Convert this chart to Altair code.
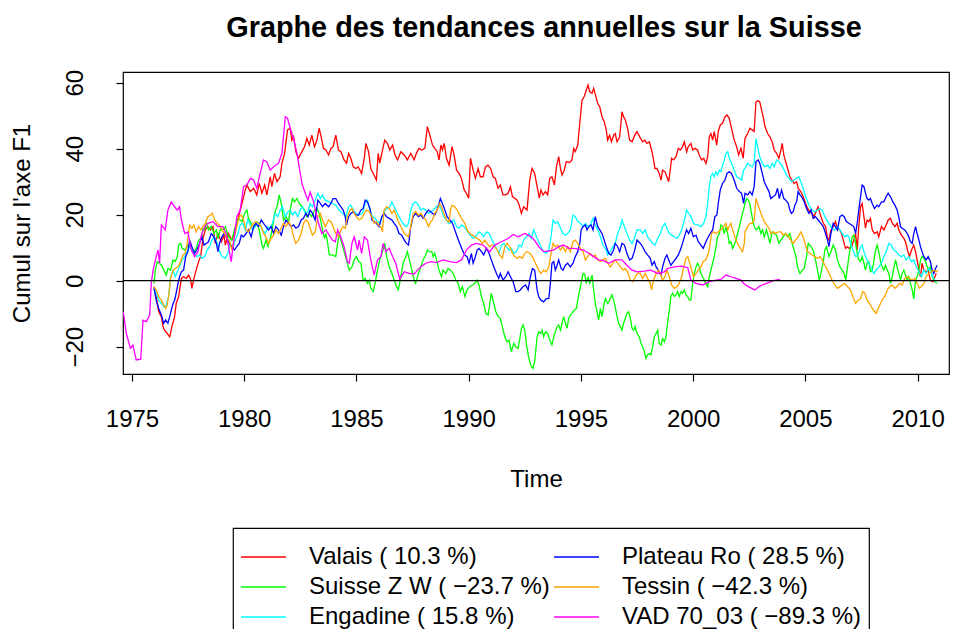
import altair as alt
import pandas as pd

# ---- data (year, cumulative value) ----
valais = [(1975.98,-1.8),(1976.08,-4.8),(1976.19,-9.4),(1976.31,-10.9),(1976.38,-13.9),(1976.45,-15),(1976.57,-16),(1976.68,-17),(1976.78,-13.9),(1976.9,-10.9),(1976.97,-6.9),(1977.08,-4.8),(1977.2,0.7),(1977.3,1.2),(1977.42,0.7),(1977.52,1.7),(1977.6,0.7),(1977.67,-2.3),(1977.76,0.7),(1977.86,3.2),(1977.97,5.8),(1978.06,7.3),(1978.16,12.8),(1978.27,15.4),(1978.38,16.4),(1978.5,15.4),(1978.61,16.4),(1978.71,11.3),(1978.83,14.3),(1978.98,11.8),(1979.1,13.8),(1979.16,10.8),(1979.3,14.3),(1979.45,12.3),(1979.6,15.4),(1979.75,19.4),(1979.9,23.4),(1980.05,27.5),(1980.12,29),(1980.27,27),(1980.42,28),(1980.56,26),(1980.67,29.5),(1980.79,26.5),(1980.91,29),(1981.01,26),(1981.16,31.5),(1981.23,28.5),(1981.35,32.5),(1981.46,30),(1981.6,31.5),(1981.68,35.6),(1981.8,38.6),(1981.93,45.7),(1982.05,46.2),(1982.12,42.6),(1982.2,43.6),(1982.3,39.1),(1982.42,37.1),(1982.57,39.1),(1982.69,40.6),(1982.79,43.1),(1982.9,41.1),(1983.01,44.1),(1983.13,40.6),(1983.24,42.6),(1983.34,46.2),(1983.46,42.6),(1983.53,40.1),(1983.64,39.6),(1983.76,38.1),(1983.86,40.1),(1983.96,40.6),(1984.08,44.1),(1984.2,39.6),(1984.31,39.1),(1984.45,36.6),(1984.56,35.6),(1984.65,38.6),(1984.75,37.1),(1984.86,34.5),(1984.97,34.0),(1985.08,34.5),(1985.23,32.5),(1985.35,37.1),(1985.42,41.6),(1985.54,39.1),(1985.64,34),(1985.75,32.5),(1985.89,30.5),(1985.97,38.6),(1986.04,35.6),(1986.13,38.6),(1986.26,42.6),(1986.38,41.6),(1986.49,39.6),(1986.61,41.1),(1986.72,38.1),(1986.83,36.6),(1986.98,39.1),(1987.13,38.1),(1987.27,36.6),(1987.42,38.6),(1987.57,36.6),(1987.67,38.6),(1987.79,40.1),(1987.91,39.6),(1988.05,40.1),(1988.16,46.7),(1988.27,44.1),(1988.39,41.1),(1988.49,40.1),(1988.6,39.1),(1988.68,36.6),(1988.76,41.1),(1988.83,39.6),(1988.91,41.6),(1989.01,37.1),(1989.13,35),(1989.26,40.6),(1989.35,38.1),(1989.46,33.5),(1989.57,32.5),(1989.68,31),(1989.8,27.5),(1989.9,26.5),(1990.0,25),(1990.08,37.1),(1990.2,33.5),(1990.3,31),(1990.42,34),(1990.52,31.5),(1990.64,31.5),(1990.75,34.5),(1990.86,35),(1990.98,34),(1991.09,31.5),(1991.19,31),(1991.31,28),(1991.41,29),(1991.53,26),(1991.65,26),(1991.76,26.5),(1991.86,28.5),(1991.95,25.5),(1992.05,25),(1992.16,24.4),(1992.25,22.9),(1992.35,20.4),(1992.45,22.4),(1992.6,21.4),(1992.72,30.5),(1992.82,34),(1992.94,32.5),(1993.05,28.5),(1993.15,25),(1993.22,27.5),(1993.31,26),(1993.42,27),(1993.52,26),(1993.61,31),(1993.71,31.5),(1993.82,29),(1993.91,34.5),(1994.01,37.6),(1994.09,34),(1994.16,32),(1994.26,33.5),(1994.35,36.1),(1994.5,35.8),(1994.6,36.6),(1994.68,40.1),(1994.75,39.1),(1994.86,41.1),(1994.95,47.7),(1995.05,54.7),(1995.15,55.8),(1995.24,57.8),(1995.32,59.3),(1995.39,57.3),(1995.5,56.8),(1995.57,58.3),(1995.67,55.8),(1995.75,53.7),(1995.84,52.7),(1995.94,49.7),(1996.04,48.2),(1996.13,45.7),(1996.19,42.6),(1996.28,44.1),(1996.36,42.1),(1996.46,44.1),(1996.53,44.6),(1996.61,42.1),(1996.73,43.6),(1996.83,51.2),(1996.9,49.7),(1996.98,48.7),(1997.08,46.2),(1997.17,42.6),(1997.28,42.1),(1997.4,44.1),(1997.5,45.2),(1997.62,43.6),(1997.75,42.1),(1997.85,42.6),(1997.94,41.6),(1998.05,42.1),(1998.15,39.6),(1998.24,36.6),(1998.3,34),(1998.39,34),(1998.49,32.5),(1998.57,30.5),(1998.64,33.5),(1998.75,33),(1998.83,31.5),(1998.91,30),(1998.98,33.5),(1999.04,37.1),(1999.13,36.6),(1999.24,37.6),(1999.34,40.1),(1999.43,39.6),(1999.53,40.6),(1999.61,42.1),(1999.71,39.1),(1999.78,40.6),(1999.9,41.6),(1999.98,39.6),(2000.08,40.1),(2000.2,39.6),(2000.27,38.1),(2000.38,36.6),(2000.47,37.1),(2000.57,35.5),(2000.65,37.6),(2000.72,43.6),(2000.79,44.6),(2000.87,42.6),(2000.94,45.2),(2001.05,41.1),(2001.12,45.2),(2001.21,47.2),(2001.31,47.7),(2001.42,49.7),(2001.51,50.2),(2001.61,49.2),(2001.71,46.2),(2001.83,42.6),(2001.94,40.6),(2002.03,38.1),(2002.13,40.1),(2002.23,37.1),(2002.31,43.1),(2002.43,44.6),(2002.53,46.2),(2002.63,45.7),(2002.72,45.2),(2002.8,54.2),(2002.9,54.5),(2002.97,54.2),(2003.05,51.7),(2003.12,49.7),(2003.2,46.7),(2003.32,44.6),(2003.42,43.6),(2003.52,42.1),(2003.61,39.6),(2003.72,38.6),(2003.82,37.1),(2003.91,39.6),(2003.97,41.6),(2004.04,38.1),(2004.12,36.1),(2004.21,34),(2004.31,31.5),(2004.41,30.5),(2004.5,29.5),(2004.61,30),(2004.68,28),(2004.8,27),(2004.9,25.5),(2005.01,23.4),(2005.1,21.9),(2005.2,20.9),(2005.3,20.4),(2005.39,19.4),(2005.5,21.4),(2005.57,22.4),(2005.65,20.4),(2005.72,18.9),(2005.8,17.4),(2005.9,16.4),(2005.99,12.8),(2006.05,12.3),(2006.14,15.4),(2006.24,16.4),(2006.34,17.9),(2006.43,15.9),(2006.54,15.4),(2006.61,14.3),(2006.69,12.3),(2006.79,9.8),(2006.88,10.3),(2006.94,9.8),(2007.06,10.3),(2007.16,12.3),(2007.24,14.3),(2007.31,9.3),(2007.38,16.4),(2007.46,22.4),(2007.53,23.4),(2007.61,19.4),(2007.68,15.9),(2007.75,18.4),(2007.83,17.9),(2007.9,18.9),(2007.98,15.4),(2008.08,14.3),(2008.2,14.8),(2008.27,13.3),(2008.39,16.4),(2008.5,15.4),(2008.6,16.9),(2008.69,18.4),(2008.79,18.9),(2008.87,17.4),(2008.99,16.4),(2009.09,17.4),(2009.16,15.4),(2009.28,13.8),(2009.39,12.8),(2009.46,11.8),(2009.57,8.8),(2009.64,7.3),(2009.73,9.3),(2009.83,10.8),(2009.91,8.8),(2009.98,6.3),(2010.06,3.2),(2010.13,1.2),(2010.2,5.3),(2010.28,3.2),(2010.38,2.7),(2010.47,3.2),(2010.57,0.2),(2010.68,-0.3),(2010.77,1.2),(2010.83,2.2)]

suisse_zw = [(1975.98,-0.8),(1976.04,3.2),(1976.13,5.8),(1976.23,5.3),(1976.31,4.7),(1976.42,3.2),(1976.53,1.7),(1976.6,3.7),(1976.72,3.2),(1976.83,6.3),(1976.93,5.8),(1977.02,7.3),(1977.08,10.8),(1977.17,11.3),(1977.24,9.8),(1977.35,9.3),(1977.46,10.3),(1977.57,11.3),(1977.67,9.3),(1977.76,8.8),(1977.86,9.8),(1977.97,12.3),(1978.09,12.8),(1978.16,15.9),(1978.24,15.4),(1978.31,17.4),(1978.41,15.4),(1978.53,16.4),(1978.65,14.3),(1978.76,15.4),(1978.83,12.8),(1978.95,15.9),(1979.05,15.4),(1979.16,16.4),(1979.3,13.3),(1979.45,12.3),(1979.6,16.4),(1979.75,18.9),(1979.9,17.9),(1980.02,20.4),(1980.12,21.4),(1980.19,18.9),(1980.31,17.4),(1980.42,16.4),(1980.56,17.4),(1980.67,15.4),(1980.79,10.8),(1980.86,9.8),(1980.97,12.3),(1981.06,10.3),(1981.16,12.8),(1981.26,15.9),(1981.35,20.4),(1981.46,22.4),(1981.56,26),(1981.65,23.4),(1981.75,18.4),(1981.86,19.4),(1981.98,17.9),(1982.05,21.4),(1982.15,24.9),(1982.24,23.9),(1982.35,24.9),(1982.45,23.4),(1982.57,22.4),(1982.69,21.4),(1982.79,19.4),(1982.9,20.4),(1983.01,19.4),(1983.13,21.4),(1983.24,21.9),(1983.34,20.4),(1983.46,16.4),(1983.58,12.8),(1983.64,14.3),(1983.71,11.8),(1983.79,7.8),(1983.93,7.8),(1984.08,7.3),(1984.16,11.3),(1984.23,14.3),(1984.35,11.3),(1984.45,8.8),(1984.56,6.3),(1984.68,3.2),(1984.8,4.2),(1984.9,6.3),(1985.0,7.3),(1985.1,5.8),(1985.2,5.3),(1985.3,0.2),(1985.39,0.7),(1985.49,-0.8),(1985.57,0.2),(1985.64,-2.3),(1985.75,-3.3),(1985.83,-0.8),(1985.94,3.2),(1986.04,6.3),(1986.16,8.8),(1986.26,11.3),(1986.35,7.3),(1986.46,4.2),(1986.58,2.2),(1986.68,0.2),(1986.79,-1.8),(1986.87,-2.8),(1986.98,1.2),(1987.08,5.3),(1987.2,7.3),(1987.27,8.8),(1987.38,5.8),(1987.47,3.2),(1987.57,0.2),(1987.64,-0.8),(1987.76,2.2),(1987.87,4.2),(1987.97,6.3),(1988.09,7.8),(1988.16,9.3),(1988.26,8.8),(1988.36,8.8),(1988.42,7.3),(1988.49,8.3),(1988.57,6.3),(1988.68,3.2),(1988.79,1.2),(1988.86,3.2),(1988.98,2.2),(1989.08,3.7),(1989.19,3.2),(1989.31,2.2),(1989.43,0.2),(1989.53,-0.8),(1989.63,-3.3),(1989.72,-1.8),(1989.83,-4.8),(1989.93,-2.8),(1990.05,-1.8),(1990.17,-1.3),(1990.27,-0.8),(1990.38,0.2),(1990.46,-1.3),(1990.57,-4.8),(1990.67,-6.9),(1990.76,-9.9),(1990.87,-10.4),(1990.94,-6.9),(1991.01,-3.8),(1991.12,-6.9),(1991.21,-9.4),(1991.31,-10.9),(1991.41,-11.4),(1991.5,-13.9),(1991.61,-17),(1991.71,-18.5),(1991.8,-18),(1991.9,-21.5),(1992.01,-19),(1992.1,-20),(1992.2,-20.5),(1992.27,-18),(1992.35,-14.4),(1992.42,-13.4),(1992.5,-15),(1992.57,-19),(1992.65,-22.5),(1992.72,-24.5),(1992.79,-26),(1992.87,-26.6),(1992.94,-24.5),(1993.05,-17),(1993.12,-15.5),(1993.2,-16),(1993.27,-15),(1993.34,-17),(1993.42,-15.5),(1993.52,-16),(1993.61,-18),(1993.71,-19.5),(1993.79,-17),(1993.86,-15.5),(1993.94,-13.9),(1994.01,-13.4),(1994.09,-15),(1994.16,-12.9),(1994.23,-10.9),(1994.31,-12.9),(1994.38,-14.4),(1994.46,-11.4),(1994.53,-10.4),(1994.6,-9.9),(1994.71,-8.9),(1994.8,-8.4),(1994.86,-5.9),(1994.95,-2.8),(1995.01,-0.8),(1995.1,2.2),(1995.17,2.0),(1995.24,-0.8),(1995.32,1.2),(1995.39,-0.8),(1995.5,1.7),(1995.57,-2.8),(1995.64,-6.9),(1995.72,-9.4),(1995.79,-11.9),(1995.87,-8.4),(1995.94,-10.9),(1996.01,-7.9),(1996.09,-5.4),(1996.19,-6.9),(1996.28,-5.9),(1996.38,-4.3),(1996.46,-5.9),(1996.53,-7.9),(1996.61,-10.9),(1996.68,-12.9),(1996.76,-13.9),(1996.83,-15),(1996.9,-12.9),(1996.98,-11.4),(1997.05,-9.9),(1997.13,-9.4),(1997.2,-11.4),(1997.28,-14.4),(1997.35,-15),(1997.42,-13.9),(1997.5,-16),(1997.6,-17),(1997.68,-19),(1997.75,-20),(1997.83,-21.5),(1997.9,-23.5),(1997.97,-22.5),(1998.05,-22),(1998.12,-22.5),(1998.2,-20),(1998.27,-17),(1998.35,-16),(1998.42,-15),(1998.49,-19),(1998.57,-19.5),(1998.64,-17.5),(1998.72,-18.5),(1998.79,-17),(1998.86,-12.9),(1998.94,-8.9),(1999.01,-4.8),(1999.09,-3.8),(1999.16,-4.8),(1999.24,-4.3),(1999.31,-3.3),(1999.38,-4.8),(1999.46,-3.3),(1999.53,-3.8),(1999.61,-2.8),(1999.68,-4.3),(1999.76,-4.8),(1999.83,-5.9),(1999.9,-5.9),(1999.98,-0.8),(2000.05,2.2),(2000.13,4.2),(2000.2,5.3),(2000.27,4.2),(2000.35,2.2),(2000.42,1.2),(2000.5,0.2),(2000.57,-0.8),(2000.65,-1.8),(2000.72,1.2),(2000.79,3.2),(2000.87,5.3),(2000.94,7.3),(2001.02,10.3),(2001.09,13.3),(2001.17,14.3),(2001.24,16.9),(2001.31,16.4),(2001.39,14.3),(2001.46,16.4),(2001.54,14.3),(2001.61,11.3),(2001.68,11.8),(2001.76,9.8),(2001.83,10.8),(2001.91,12.3),(2001.98,14.3),(2002.06,16.4),(2002.13,18.4),(2002.2,20.4),(2002.28,22.4),(2002.31,23.4),(2002.38,24.9),(2002.46,24.4),(2002.53,23.4),(2002.6,20.4),(2002.68,17.4),(2002.75,15.9),(2002.83,15.4),(2002.93,16.4),(2003.02,14.3),(2003.09,15.4),(2003.17,13.3),(2003.27,15.4),(2003.35,13.3),(2003.42,11.3),(2003.52,14.8),(2003.61,14.3),(2003.72,13.8),(2003.82,11.3),(2003.91,12.3),(2004.01,13.3),(2004.12,14.3),(2004.21,13.3),(2004.31,14.3),(2004.41,11.3),(2004.5,9.3),(2004.58,7.3),(2004.65,4.2),(2004.76,2.2),(2004.86,3.2),(2004.95,3.7),(2005.05,7.3),(2005.13,11.3),(2005.25,10.3),(2005.35,9.3),(2005.45,6.3),(2005.54,3.2),(2005.62,0.2),(2005.69,2.2),(2005.8,5.8),(2005.87,9.3),(2005.94,10.3),(2006.05,7.3),(2006.14,8.8),(2006.24,10.8),(2006.34,9.3),(2006.43,6.3),(2006.54,4.2),(2006.64,3.2),(2006.73,2.2),(2006.8,0.2),(2006.86,3.2),(2006.94,7.3),(2007.01,10.3),(2007.09,13.3),(2007.16,13.8),(2007.24,11.3),(2007.31,8.3),(2007.38,6.3),(2007.46,5.8),(2007.53,7.3),(2007.61,5.3),(2007.68,3.2),(2007.75,5.3),(2007.83,5.8),(2007.9,2.7),(2007.98,3.2),(2008.05,5.8),(2008.13,9.3),(2008.2,10.8),(2008.27,8.8),(2008.35,5.8),(2008.42,4.2),(2008.5,3.2),(2008.57,4.7),(2008.65,3.2),(2008.72,2.2),(2008.79,-0.8),(2008.87,1.2),(2008.94,3.7),(2009.02,6.3),(2009.09,4.2),(2009.16,2.2),(2009.24,0.2),(2009.31,2.2),(2009.39,3.2),(2009.46,1.7),(2009.54,0.2),(2009.61,1.2),(2009.68,-0.8),(2009.76,-2.8),(2009.83,-5.5),(2009.91,0.2),(2009.98,1.2),(2010.06,3.2),(2010.13,6.3),(2010.2,7.3),(2010.28,6.8),(2010.35,5.8),(2010.43,4.2),(2010.5,3.2),(2010.57,4.2),(2010.65,1.2),(2010.77,-0.3),(2010.87,-0.8)]

engadine = [(1975.98,-1.8),(1976.08,-3.8),(1976.19,-5.9),(1976.31,-6.9),(1976.42,-7.9),(1976.53,-7.4),(1976.63,-4.8),(1976.72,1.2),(1976.83,3.2),(1976.93,1.2),(1977.02,2.7),(1977.12,4.2),(1977.23,6.3),(1977.35,7.3),(1977.46,8.8),(1977.57,10.3),(1977.67,9.3),(1977.79,7.8),(1977.91,7.3),(1978.01,7.8),(1978.12,6.8),(1978.24,7.3),(1978.35,9.3),(1978.46,10.3),(1978.56,12.3),(1978.68,13.3),(1978.8,11.3),(1978.9,8.8),(1979.01,7.3),(1979.16,6.8),(1979.27,8.3),(1979.38,11.3),(1979.48,9.3),(1979.6,12.3),(1979.72,14.3),(1979.82,16.9),(1979.93,17.4),(1980.05,15.4),(1980.16,18.4),(1980.27,16.9),(1980.37,15.4),(1980.49,16.4),(1980.61,17.9),(1980.71,16.9),(1980.82,15.4),(1980.94,14.3),(1981.06,16.4),(1981.16,15.9),(1981.26,17.4),(1981.38,20.4),(1981.5,19.4),(1981.6,21.4),(1981.71,22.4),(1981.83,19.4),(1981.95,20.9),(1982.05,21.4),(1982.15,19.9),(1982.27,20.9),(1982.39,19.4),(1982.49,21.4),(1982.6,22.4),(1982.72,20.4),(1982.84,20.9),(1982.94,23.4),(1983.04,22.4),(1983.16,24.4),(1983.28,26.5),(1983.39,24.9),(1983.49,26),(1983.61,24.4),(1983.79,23.9),(1983.93,23.4),(1984.08,22.9),(1984.23,21.4),(1984.38,20.4),(1984.53,19.4),(1984.65,22.4),(1984.75,22.9),(1984.86,21.4),(1984.97,20.4),(1985.12,19.9),(1985.27,20.4),(1985.39,23.4),(1985.49,24.4),(1985.6,21.4),(1985.72,19.4),(1985.83,18.9),(1985.94,17.9),(1986.04,17.4),(1986.16,19.4),(1986.28,21.4),(1986.38,21.9),(1986.49,22.4),(1986.58,23.9),(1986.68,22.4),(1986.79,20.9),(1986.9,19.4),(1987.02,17.9),(1987.13,16.9),(1987.23,16.4),(1987.32,17.4),(1987.42,21.4),(1987.53,23.4),(1987.64,23.9),(1987.76,22.9),(1987.87,21.4),(1987.97,21.9),(1988.09,21.4),(1988.21,20.4),(1988.31,20.9),(1988.42,21.4),(1988.57,22.4),(1988.68,22.9),(1988.79,21.4),(1988.89,19.4),(1989.01,18.4),(1989.13,17.4),(1989.23,17.9),(1989.34,18.4),(1989.46,16.4),(1989.57,15.9),(1989.68,16.9),(1989.78,16.4),(1989.9,15.4),(1990.02,14.3),(1990.12,13.3),(1990.23,12.8),(1990.35,13.8),(1990.46,14.8),(1990.57,14.3),(1990.67,13.3),(1990.79,14.8),(1990.91,14.3),(1991.01,12.8),(1991.12,11.3),(1991.24,9.8),(1991.35,8.3),(1991.46,10.8),(1991.56,11.3),(1991.68,10.3),(1991.8,9.3),(1991.9,9.8),(1992.01,8.3),(1992.13,8.8),(1992.25,10.8),(1992.35,10.3),(1992.45,12.3),(1992.57,13.3),(1992.69,14.3),(1992.79,12.8),(1992.9,15.4),(1993.02,13.3),(1993.12,11.8),(1993.22,10.3),(1993.34,8.8),(1993.46,8.3),(1993.57,9.3),(1993.67,13.3),(1993.76,18.4),(1993.86,17.4),(1993.97,17.9),(1994.09,15.9),(1994.2,14.3),(1994.31,13.8),(1994.41,14.3),(1994.53,15.4),(1994.65,19.9),(1994.75,19.4),(1994.86,17.9),(1994.98,17.4),(1995.1,16.4),(1995.2,17.4),(1995.3,16.4),(1995.42,16.9),(1995.54,18.9),(1995.64,16.9),(1995.75,15.4),(1995.87,13.3),(1995.98,10.8),(1996.09,9.8),(1996.19,7.8),(1996.31,8.8),(1996.43,10.3),(1996.53,11.3),(1996.64,14.3),(1996.76,16.4),(1996.83,18.4),(1996.94,16.4),(1997.05,14.3),(1997.17,12.3),(1997.28,11.3),(1997.38,12.8),(1997.5,15.4),(1997.65,15.4),(1997.75,14.3),(1997.86,15.4),(1997.97,13.3),(1998.09,12.3),(1998.2,11.3),(1998.3,10.8),(1998.42,12.8),(1998.54,14.3),(1998.64,16.4),(1998.75,17.4),(1998.83,15.9),(1998.94,14.3),(1999.04,13.8),(1999.16,13.3),(1999.28,12.8),(1999.38,13.8),(1999.49,15.4),(1999.61,18.4),(1999.71,21.4),(1999.8,20.4),(1999.9,19.4),(2000.02,17.4),(2000.13,16.9),(2000.23,16.9),(2000.35,16.4),(2000.47,17.4),(2000.57,19.4),(2000.65,23.4),(2000.72,28.5),(2000.79,31.5),(2000.87,32.5),(2000.94,31.5),(2001.02,33),(2001.09,32),(2001.17,33.5),(2001.24,33),(2001.31,35),(2001.39,36.6),(2001.46,38.6),(2001.54,39.1),(2001.61,37.1),(2001.71,35.6),(2001.83,33.5),(2001.94,31.5),(2002.06,31),(2002.16,30.5),(2002.25,33.5),(2002.31,34),(2002.43,35.6),(2002.53,35),(2002.63,34.5),(2002.72,35.6),(2002.8,43.1),(2002.87,40.6),(2002.97,37.6),(2003.08,35.6),(2003.2,34.5),(2003.32,35),(2003.42,34),(2003.52,35.6),(2003.61,34.5),(2003.72,36.6),(2003.82,36.1),(2003.94,35),(2004.06,33.5),(2004.16,32),(2004.27,31),(2004.38,30),(2004.5,30.5),(2004.61,31),(2004.71,31.5),(2004.8,30),(2004.9,28),(2005.01,25.5),(2005.1,23.9),(2005.2,22.4),(2005.3,21.4),(2005.42,20.9),(2005.54,21.4),(2005.65,21.9),(2005.75,21.4),(2005.87,19.4),(2005.99,17.9),(2006.09,16.9),(2006.19,15.9),(2006.31,15.4),(2006.43,16.4),(2006.54,15.4),(2006.64,14.3),(2006.76,13.3),(2006.86,13.8),(2006.94,13.3),(2007.01,11.3),(2007.12,9.3),(2007.24,7.3),(2007.35,7.8),(2007.46,10.3),(2007.53,10.8),(2007.61,8.8),(2007.71,6.8),(2007.83,5.3),(2007.95,3.7),(2008.05,2.2),(2008.16,3.2),(2008.27,4.2),(2008.39,5.3),(2008.5,7.3),(2008.6,8.8),(2008.72,11.3),(2008.82,10.8),(2008.94,9.3),(2009.05,8.8),(2009.16,7.8),(2009.28,7.3),(2009.39,7.8),(2009.49,6.3),(2009.61,7.3),(2009.73,5.8),(2009.83,6.3),(2009.94,4.2),(2010.06,2.7),(2010.17,1.2),(2010.28,3.2),(2010.38,2.2),(2010.5,3.7),(2010.62,2.2),(2010.72,0.7),(2010.8,-0.3)]

plateau_ro = [(1975.98,-2.3),(1976.08,-5.9),(1976.19,-8.4),(1976.31,-10.4),(1976.41,-12.9),(1976.5,-11.9),(1976.6,-12.9),(1976.68,-10.9),(1976.75,-8.9),(1976.83,-6.9),(1976.9,-5.9),(1976.97,-3.8),(1977.05,-0.8),(1977.12,1.2),(1977.2,2.7),(1977.3,3.2),(1977.39,7.3),(1977.49,8.8),(1977.57,12.3),(1977.67,10.3),(1977.79,8.3),(1977.89,9.3),(1978.01,11.3),(1978.12,13.3),(1978.21,10.8),(1978.31,11.3),(1978.41,11.8),(1978.53,14.3),(1978.65,13.3),(1978.76,11.3),(1978.83,8.8),(1978.9,11.3),(1979.01,13.3),(1979.1,14.3),(1979.23,12.8),(1979.33,11.3),(1979.45,10.3),(1979.57,9.3),(1979.67,10.3),(1979.78,11.3),(1979.87,13.8),(1979.97,13.3),(1980.08,14.3),(1980.19,15.4),(1980.31,13.3),(1980.42,16.4),(1980.52,17.4),(1980.64,16.4),(1980.76,18.4),(1980.86,17.4),(1980.97,16.4),(1981.08,15.4),(1981.2,16.4),(1981.31,14.3),(1981.41,16.4),(1981.53,15.4),(1981.65,13.8),(1981.75,16.4),(1981.86,18.4),(1981.98,17.4),(1982.09,16.4),(1982.2,16.9),(1982.3,15.9),(1982.42,16.4),(1982.54,18.4),(1982.64,18.9),(1982.75,20.4),(1982.84,19.4),(1982.94,21.4),(1983.04,20.4),(1983.16,18.4),(1983.28,24.4),(1983.39,23.4),(1983.49,22.4),(1983.61,23.4),(1983.76,22.4),(1983.86,23.4),(1983.96,24.9),(1984.08,24.9),(1984.2,23.4),(1984.31,22.4),(1984.41,21.4),(1984.5,19.4),(1984.56,16.9),(1984.65,19.4),(1984.75,20.4),(1984.86,20.9),(1984.97,19.9),(1985.09,19.9),(1985.2,21.4),(1985.3,21.9),(1985.39,24.4),(1985.49,23.9),(1985.6,21.9),(1985.69,18.4),(1985.79,17.9),(1985.89,17.4),(1986.01,16.4),(1986.13,19.4),(1986.23,20.4),(1986.34,19.4),(1986.46,18.9),(1986.58,18.4),(1986.68,17.4),(1986.79,16.4),(1986.9,14.3),(1987.02,13.8),(1987.13,12.3),(1987.23,11.3),(1987.32,10.8),(1987.42,16.4),(1987.53,19.4),(1987.64,20.4),(1987.76,19.4),(1987.87,19.9),(1987.97,18.9),(1988.09,20.4),(1988.21,21.4),(1988.31,20.9),(1988.39,20.4),(1988.49,19.9),(1988.59,21.4),(1988.68,23.4),(1988.74,24.9),(1988.83,23.4),(1988.94,21.4),(1989.04,19.4),(1989.16,18.4),(1989.28,17.4),(1989.38,15.4),(1989.49,13.3),(1989.6,11.3),(1989.72,9.3),(1989.83,7.8),(1989.93,7.3),(1990.02,5.3),(1990.12,8.3),(1990.2,5.3),(1990.3,7.3),(1990.38,9.3),(1990.46,9.8),(1990.57,8.8),(1990.67,7.8),(1990.79,9.8),(1990.91,8.3),(1991.01,6.3),(1991.12,4.2),(1991.24,2.2),(1991.34,0.7),(1991.41,2.2),(1991.53,0.2),(1991.65,1.2),(1991.76,2.7),(1991.86,1.2),(1991.98,-0.3),(1992.1,-3.3),(1992.2,-3.3),(1992.3,-2.8),(1992.42,-1.8),(1992.54,-1.3),(1992.65,-2.8),(1992.75,1.2),(1992.84,3.7),(1992.94,3.2),(1993.05,-2.8),(1993.12,-4.8),(1993.22,-5.9),(1993.34,-6.4),(1993.46,-5.4),(1993.57,-5.4),(1993.64,-0.8),(1993.71,5.3),(1993.79,5.8),(1993.86,3.2),(1993.94,4.7),(1994.01,6.3),(1994.12,3.7),(1994.2,3.2),(1994.31,4.7),(1994.41,5.3),(1994.53,4.2),(1994.65,5.3),(1994.75,7.3),(1994.86,8.8),(1994.95,11.3),(1995.01,15.4),(1995.1,16.4),(1995.2,16.9),(1995.27,15.4),(1995.36,16.4),(1995.45,16.9),(1995.54,15.4),(1995.64,19.4),(1995.75,16.4),(1995.84,15.4),(1995.94,14.3),(1996.04,12.3),(1996.13,10.3),(1996.24,8.3),(1996.34,7.8),(1996.46,9.3),(1996.53,11.3),(1996.64,10.3),(1996.73,8.8),(1996.83,11.3),(1996.94,10.8),(1997.05,8.3),(1997.17,6.3),(1997.28,6.8),(1997.38,8.8),(1997.5,12.3),(1997.65,11.3),(1997.75,10.3),(1997.86,8.8),(1997.97,7.8),(1998.09,6.8),(1998.17,4.7),(1998.27,5.8),(1998.35,4.2),(1998.45,3.2),(1998.57,1.7),(1998.64,4.2),(1998.75,6.8),(1998.83,7.8),(1998.94,5.8),(1999.01,4.7),(1999.13,5.8),(1999.24,6.8),(1999.34,7.8),(1999.43,9.3),(1999.53,11.3),(1999.61,13.3),(1999.71,15.4),(1999.8,14.3),(1999.9,15.9),(2000.01,13.3),(2000.13,13.8),(2000.23,11.8),(2000.35,10.8),(2000.45,9.8),(2000.57,11.8),(2000.68,13.3),(2000.76,14.3),(2000.87,15.4),(2000.97,19.4),(2001.06,19.9),(2001.12,23.4),(2001.21,27.5),(2001.31,29.5),(2001.42,30.5),(2001.51,32.5),(2001.61,33),(2001.71,32.5),(2001.83,30.5),(2001.94,28),(2002.06,27),(2002.16,26.5),(2002.25,23.4),(2002.31,26.5),(2002.43,26),(2002.53,27),(2002.63,26),(2002.72,28.5),(2002.8,36.1),(2002.9,36.6),(2002.97,35.6),(2003.08,32.5),(2003.17,30),(2003.27,28.5),(2003.38,27),(2003.46,24.9),(2003.57,25.5),(2003.67,26),(2003.76,28),(2003.84,24.9),(2003.94,27.5),(2004.04,24.9),(2004.13,24.4),(2004.24,23.4),(2004.31,21.4),(2004.38,20.4),(2004.46,20.9),(2004.53,22.9),(2004.61,23.9),(2004.68,27),(2004.76,26),(2004.83,25.5),(2004.95,23.9),(2005.05,21.9),(2005.16,20.4),(2005.25,21.4),(2005.35,18.9),(2005.45,19.4),(2005.57,18.4),(2005.69,17.4),(2005.8,16.4),(2005.9,14.3),(2005.99,12.3),(2006.05,10.3),(2006.14,14.3),(2006.24,17.4),(2006.34,16.4),(2006.43,15.4),(2006.54,19.4),(2006.64,19.9),(2006.73,19.4),(2006.83,17.9),(2006.94,17.4),(2007.06,16.9),(2007.16,16.4),(2007.24,14.3),(2007.31,17.4),(2007.38,21.4),(2007.46,25.5),(2007.53,29),(2007.61,28.5),(2007.68,26.5),(2007.75,24.9),(2007.83,24.4),(2007.9,24.9),(2007.98,23.4),(2008.08,21.9),(2008.2,22.9),(2008.27,22.4),(2008.39,23.9),(2008.5,23.9),(2008.6,25.5),(2008.69,26.5),(2008.79,25.5),(2008.9,23.9),(2008.99,22.9),(2009.09,21.4),(2009.16,19.4),(2009.24,16.4),(2009.31,15.9),(2009.43,15.4),(2009.54,14.3),(2009.61,13.3),(2009.68,11.8),(2009.76,11.3),(2009.83,14.3),(2009.91,16.4),(2009.98,14.3),(2010.06,12.3),(2010.13,10.3),(2010.2,8.8),(2010.28,7.3),(2010.38,6.3),(2010.47,7.3),(2010.57,5.8),(2010.65,3.2),(2010.72,2.2),(2010.8,3.7),(2010.87,4.7)]

tessin = [(1975.98,-1.8),(1976.08,-2.8),(1976.19,-4.8),(1976.31,-5.9),(1976.41,-7.4),(1976.5,-8.4),(1976.57,-7.4),(1976.65,-3.8),(1976.72,0.7),(1976.83,3.2),(1976.93,3.7),(1977.05,4.2),(1977.17,5.8),(1977.27,7.8),(1977.37,8.3),(1977.46,11.3),(1977.57,16.9),(1977.67,15.9),(1977.76,16.9),(1977.86,14.8),(1977.97,16.4),(1978.06,15.4),(1978.16,16.4),(1978.27,17.4),(1978.38,19.4),(1978.5,19.9),(1978.58,20.4),(1978.68,18.4),(1978.8,17.4),(1978.9,16.9),(1979.01,15.4),(1979.13,14.3),(1979.23,12.8),(1979.33,12.3),(1979.45,9.3),(1979.57,13.3),(1979.67,16.4),(1979.78,19.4),(1979.87,19.9),(1979.97,18.4),(1980.08,15.4),(1980.19,14.8),(1980.31,16.4),(1980.42,17.4),(1980.52,17.9),(1980.64,17.4),(1980.76,16.4),(1980.86,14.3),(1980.97,13.3),(1981.08,11.3),(1981.2,12.8),(1981.31,13.8),(1981.41,15.4),(1981.53,14.3),(1981.65,15.9),(1981.75,17.4),(1981.86,16.4),(1981.98,17.9),(1982.09,16.4),(1982.2,13.3),(1982.3,11.3),(1982.42,12.3),(1982.54,14.3),(1982.64,17.4),(1982.75,18.4),(1982.84,17.9),(1982.94,15.9),(1983.04,13.8),(1983.16,14.8),(1983.28,19.4),(1983.39,20.4),(1983.49,18.4),(1983.61,16.4),(1983.76,18.4),(1983.86,17.9),(1983.96,16.4),(1984.08,14.3),(1984.2,13.3),(1984.31,15.4),(1984.41,16.4),(1984.5,15.9),(1984.6,19.4),(1984.71,21.4),(1984.8,21.9),(1984.9,20.4),(1985.0,19.4),(1985.12,18.4),(1985.24,18.9),(1985.35,20.4),(1985.45,21.4),(1985.57,20.9),(1985.69,19.4),(1985.79,17.4),(1985.89,17.9),(1985.98,16.9),(1986.09,16.4),(1986.16,14.8),(1986.23,21.4),(1986.34,22.4),(1986.46,21.9),(1986.58,20.4),(1986.68,21.4),(1986.79,19.4),(1986.9,17.4),(1987.02,15.9),(1987.13,14.3),(1987.23,13.8),(1987.32,13.3),(1987.42,16.4),(1987.53,20.4),(1987.64,20.9),(1987.76,19.9),(1987.87,20.4),(1987.97,19.4),(1988.09,18.4),(1988.21,16.4),(1988.31,17.9),(1988.39,18.4),(1988.49,20.4),(1988.59,21.4),(1988.71,23.4),(1988.79,22.4),(1988.89,20.4),(1989.01,18.4),(1989.13,17.9),(1989.19,21.4),(1989.26,22.9),(1989.38,22.4),(1989.49,21.4),(1989.6,19.9),(1989.72,18.4),(1989.83,17.4),(1989.93,15.4),(1990.05,14.3),(1990.17,13.8),(1990.27,13.3),(1990.38,12.8),(1990.49,12.3),(1990.61,11.3),(1990.72,12.3),(1990.82,11.3),(1990.94,10.3),(1991.04,10.8),(1991.16,10.3),(1991.27,9.3),(1991.38,7.8),(1991.5,6.8),(1991.61,10.3),(1991.71,11.3),(1991.83,10.3),(1991.95,8.3),(1992.05,7.3),(1992.16,6.8),(1992.27,7.3),(1992.39,6.8),(1992.5,8.3),(1992.6,8.8),(1992.72,8.3),(1992.84,7.3),(1992.94,5.8),(1993.02,4.7),(1993.12,3.2),(1993.22,2.2),(1993.34,3.2),(1993.46,2.7),(1993.57,4.2),(1993.67,8.3),(1993.76,11.3),(1993.86,10.3),(1993.97,10.8),(1994.09,9.3),(1994.2,10.3),(1994.31,8.8),(1994.41,10.3),(1994.53,8.8),(1994.65,11.8),(1994.75,12.3),(1994.86,11.3),(1994.98,9.8),(1995.1,8.8),(1995.2,6.3),(1995.3,7.3),(1995.42,8.3),(1995.54,7.3),(1995.64,7.8),(1995.75,6.3),(1995.87,5.8),(1995.98,6.3),(1996.09,6.8),(1996.19,5.3),(1996.31,4.2),(1996.43,5.3),(1996.53,6.3),(1996.64,5.3),(1996.76,4.2),(1996.88,3.2),(1996.98,3.7),(1997.08,2.7),(1997.2,0.2),(1997.32,-0.3),(1997.42,1.2),(1997.53,2.2),(1997.65,2.2),(1997.75,0.7),(1997.86,2.2),(1997.97,0.7),(1998.09,-0.8),(1998.15,-2.8),(1998.24,0.2),(1998.35,2.2),(1998.45,3.2),(1998.54,2.2),(1998.64,0.2),(1998.75,1.2),(1998.83,3.2),(1998.94,1.2),(1999.04,-1.3),(1999.16,-2.3),(1999.28,-1.8),(1999.38,-0.8),(1999.49,1.2),(1999.58,4.2),(1999.68,6.8),(1999.76,7.3),(1999.83,5.8),(1999.93,3.2),(2000.02,1.2),(2000.13,2.2),(2000.23,3.2),(2000.35,4.2),(2000.45,5.8),(2000.57,6.3),(2000.68,8.3),(2000.76,11.3),(2000.82,14.3),(2000.91,14.8),(2001.02,14.3),(2001.12,14.8),(2001.24,15.4),(2001.36,16.4),(2001.46,17.4),(2001.54,15.4),(2001.61,16.4),(2001.68,17.4),(2001.76,15.4),(2001.86,13.3),(2001.98,11.3),(2002.1,9.8),(2002.2,8.8),(2002.28,11.3),(2002.31,14.8),(2002.43,16.4),(2002.53,17.4),(2002.63,17.4),(2002.72,18.4),(2002.8,24.9),(2002.87,23.4),(2002.97,21.4),(2003.08,19.4),(2003.17,17.9),(2003.27,16.9),(2003.38,15.9),(2003.46,14.3),(2003.57,14.8),(2003.67,14.3),(2003.79,14.8),(2003.91,14.8),(2004.01,13.8),(2004.12,14.3),(2004.24,13.3),(2004.35,12.3),(2004.46,11.3),(2004.56,12.3),(2004.68,13.3),(2004.8,14.8),(2004.9,13.3),(2005.01,10.8),(2005.1,8.8),(2005.2,8.3),(2005.3,7.8),(2005.42,7.3),(2005.54,6.8),(2005.65,7.3),(2005.75,6.3),(2005.87,4.7),(2005.99,3.2),(2006.09,1.7),(2006.19,0.2),(2006.31,-1.3),(2006.43,-2.3),(2006.54,-1.8),(2006.64,-1.3),(2006.76,-0.8),(2006.88,-1.8),(2007.01,-2.8),(2007.12,-4.8),(2007.24,-6.9),(2007.35,-5.9),(2007.46,-5.4),(2007.56,-3.3),(2007.65,-3.8),(2007.75,-5.9),(2007.86,-6.9),(2007.98,-8.4),(2008.1,-9.4),(2008.16,-9.9),(2008.24,-8.4),(2008.35,-6.9),(2008.45,-5.4),(2008.54,-4.8),(2008.65,-2.8),(2008.75,-1.8),(2008.87,-1.3),(2008.99,-2.3),(2009.09,-1.8),(2009.19,-0.8),(2009.31,-1.3),(2009.43,0.7),(2009.54,1.2),(2009.64,0.7),(2009.76,0.2),(2009.88,0.7),(2009.98,-0.8),(2010.09,-2.3),(2010.17,-1.8),(2010.28,-0.8),(2010.38,1.2),(2010.5,2.2),(2010.62,2.7),(2010.72,3.2),(2010.83,2.7),(2010.92,3.2)]

vad_70_03 = [(1974.61,-9.4),(1974.75,-16),(1974.93,-20.5),(1975.04,-19.5),(1975.19,-24),(1975.39,-23.8),(1975.49,-12),(1975.64,-12.4),(1975.79,-10.4),(1975.86,-0.8),(1975.94,3.2),(1976.08,7.3),(1976.16,9.3),(1976.23,5.3),(1976.31,16.9),(1976.38,16.4),(1976.48,15.4),(1976.6,21.4),(1976.75,23.9),(1976.9,22.4),(1977.02,21.4),(1977.12,22.4),(1977.2,18.4),(1977.35,14.3),(1977.49,14.8),(1977.64,9.3),(1977.79,7.3),(1977.94,8.8),(1978.09,13.8),(1978.24,16.4),(1978.38,17.4),(1978.61,17.9),(1978.83,16.4),(1979.05,16.4),(1979.2,14.3),(1979.42,5.8),(1979.67,19.4),(1979.82,21.4),(1979.97,28.5),(1980.12,29),(1980.27,31),(1980.42,30.5),(1980.56,28),(1980.71,32.5),(1980.86,36.6),(1981.01,36),(1981.16,33.5),(1981.31,34.5),(1981.53,35.6),(1981.68,38.6),(1981.83,49.7),(1981.93,49.2),(1982.05,46.2),(1982.2,43.1),(1982.35,38.6),(1982.45,34.5),(1982.57,29.5),(1982.72,26.5),(1982.84,24.4),(1982.94,26.9),(1983.09,23.9),(1983.31,17.4),(1983.46,14.3),(1983.64,15.4),(1983.93,12.3),(1984.06,11.8),(1984.16,15.4),(1984.3,13.3),(1984.45,10.3),(1984.6,5.8),(1984.68,5.3),(1984.8,11.3),(1984.9,13.3),(1985.05,9.3),(1985.12,12.3),(1985.23,8.3),(1985.35,13.3),(1985.49,12.3),(1985.64,6.3),(1985.79,1.7),(1985.94,6.3),(1986.09,7.3),(1986.19,11.3),(1986.31,8.8),(1986.46,9.8),(1986.61,7.3),(1986.75,5.3),(1986.93,0.4),(1987.13,2.7),(1987.35,2.2),(1987.57,2.0),(1987.72,3.2),(1987.87,4.2),(1988.09,5.3),(1988.31,5.8),(1988.57,5.5),(1988.86,6.3),(1989.16,5.8),(1989.46,5.5),(1989.68,6.3),(1989.9,9.3),(1990.12,10.8),(1990.35,11.3),(1990.64,10.8),(1990.94,8.8),(1991.16,10.8),(1991.46,11.8),(1991.76,12.8),(1991.98,14),(1992.2,13.3),(1992.5,14.3),(1992.79,13.3),(1992.96,12.0),(1993.12,10.3),(1993.34,8.8),(1993.57,9.0),(1993.79,9.3),(1994.01,10.3),(1994.23,10.8),(1994.46,9.8),(1994.68,9.8),(1994.9,9.6),(1995.12,9.3),(1995.35,8.3),(1995.57,7.3),(1995.79,6.3),(1996.01,6.1),(1996.24,5.3),(1996.53,6.3),(1996.83,6.3),(1997.05,4.7),(1997.28,3.2),(1997.5,2.7),(1997.83,2.9),(1998.12,3.2),(1998.42,2.2),(1998.72,2.7),(1998.86,3.7),(1999.16,4.2),(1999.46,4.4),(1999.76,4.0),(1999.9,0.2),(2000.13,-0.8),(2000.42,-1.3),(2000.72,-0.3),(2001.02,0.2),(2001.24,0.4),(2001.46,1.7),(2001.68,1.2),(2001.91,0.7),(2002.13,0.2),(2002.28,-1),(2002.46,-1.8),(2002.75,-2.8),(2002.97,-1.6),(2003.27,-0.8),(2003.57,0),(2003.87,0.4)]

series_names = ["Valais ( 10.3 %)", "Suisse Z W ( \u221223.7 %)", "Engadine ( 15.8 %)",
                "Plateau Ro ( 28.5 %)", "Tessin ( \u221242.3 %)", "VAD 70_03 ( \u221289.3 %)"]
series_data = [valais, suisse_zw, engadine, plateau_ro, tessin, vad_70_03]
series_colors = ["#FF0000", "#00FF00", "#00FFFF", "#0000FF", "#FFA500", "#FF00FF"]

x_ticks = [1975, 1980, 1985, 1990, 1995, 2000, 2005, 2010]
y_ticks = [-20, 0, 20, 40, 60]

FONT = "Liberation Sans"

x_scale = alt.Scale(domain=[1974.6, 2011.4], nice=False, zero=False)
y_scale = alt.Scale(domain=[-28.27, 63.24], nice=False, zero=False)
color_scale = alt.Scale(domain=series_names, range=series_colors)

x_axis = alt.Axis(values=x_ticks, format="d", title="Time", grid=False, domain=False,
                  tickSize=7, tickColor="black", tickWidth=1.2, labelFlush=False,
                  labelOverlap=False, labelFontSize=24, labelFont=FONT, labelColor="black",
                  labelBaseline="alphabetic", labelPadding=45,
                  titleFontSize=24, titleFont=FONT, titleFontWeight="normal", titleColor="black",
                  titleBaseline="alphabetic", titleY=112, titleX=413)
y_axis = alt.Axis(values=y_ticks, title="Cumul sur l'axe F1", grid=False, domain=False,
                  tickSize=7, tickColor="black", tickWidth=1.2, labelFlush=False,
                  labelOverlap=False, labelFontSize=24, labelFont=FONT, labelColor="black",
                  labelAngle=270, labelAlign="center", labelBaseline="alphabetic", labelPadding=34,
                  titleFontSize=24, titleFont=FONT, titleFontWeight="normal", titleColor="black",
                  titleAngle=270, titleAlign="center", titleBaseline="alphabetic",
                  titleX=-94, titleY=151)
legend = alt.Legend(title=" ", titleFontSize=6, titlePadding=1,
                    orient="none", legendX=110, legendY=456, columns=2,
                    symbolType="stroke", symbolSize=2025, symbolStrokeWidth=1.3,
                    clipHeight=30,
                    labelFont=FONT, labelFontSize=24, labelColor="black", labelLimit=500,
                    labelOffset=22, columnPadding=3, rowPadding=0, padding=7,
                    strokeColor="black")

layers = []
for name, pts in zip(series_names, series_data):
    df = pd.DataFrame(pts, columns=["annee", "cumul"])
    df["serie"] = name
    layers.append(
        alt.Chart(df).mark_line(strokeWidth=1.3, clip=True).encode(
            x=alt.X("annee:Q", scale=x_scale, axis=x_axis),
            y=alt.Y("cumul:Q", scale=y_scale, axis=y_axis),
            color=alt.Color("serie:N", scale=color_scale, legend=legend),
        )
    )

zero_line = alt.Chart(pd.DataFrame({"h": [0]})).mark_rule(color="black", strokeWidth=1.2).encode(
    y=alt.Y("h:Q", scale=y_scale, axis=y_axis)
)
layers.append(zero_line)

chart = alt.layer(*layers).properties(
    width=826, height=302,
    padding={"left": 115, "top": 64, "right": 3, "bottom": 255},
    autosize=alt.AutoSizeParams(type="none"),
    title=alt.TitleParams("Graphe des tendances annuelles sur la Suisse", fontSize=28.8,
                          fontWeight="bold", font=FONT, color="black", anchor="middle",
                          frame="group", baseline="alphabetic", offset=34, dy=30, dx=8),
).configure_view(stroke="black", strokeWidth=1.2).configure_legend(strokeWidth=1.2)

chart.save("out.html", embed_options={"renderer": "svg", "actions": False})
